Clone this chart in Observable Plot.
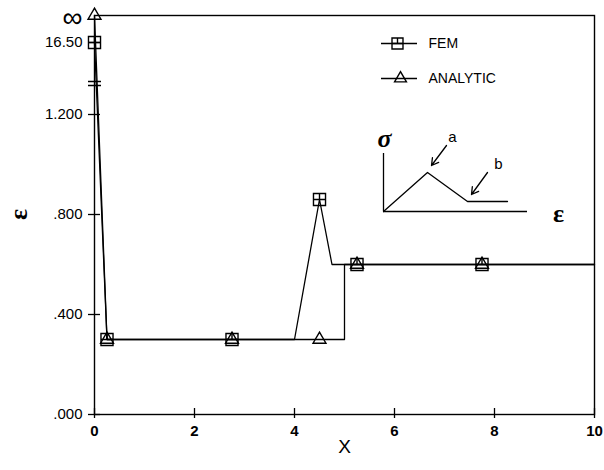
<!DOCTYPE html>
<html><head><meta charset="utf-8">
<script src="https://cdn.jsdelivr.net/npm/d3@7"></script>
<script src="https://cdn.jsdelivr.net/npm/@observablehq/plot@0.6"></script>
<style>body{margin:0;background:#fff}#chart{width:604px;height:470px}</style>
</head><body><div id="chart"></div>
<script>
// ---- data ----
const xTicks = [0, 2, 4, 6, 8, 10];
const yTickValues = [0, 0.4, 0.8, 1.2, 16.5, Infinity];
const yTickLabels = [".000", ".400", ".800", "1.200", "16.50", "\u221E"];
const femLineX = [0, 0.25, 2.75, 4.0, 4.5, 4.75, 5.25, 7.75, 10];
const femLineY = [16.5, 0.3, 0.3, 0.3, 0.86, 0.6, 0.6, 0.6, 0.6];
const femMarkX = [0, 0.25, 2.75, 4.5, 5.25, 7.75];
const femMarkY = [16.5, 0.3, 0.3, 0.86, 0.6, 0.6];
const anaLineX = [0, 0.25, 2.75, 4.5, 5.0, 5.0, 5.25, 7.75, 10];
const anaLineY = [Infinity, 0.3, 0.3, 0.3, 0.3, 0.6, 0.6, 0.6, 0.6];
const anaMarkX = [0, 0.25, 2.75, 4.5, 5.25, 7.75];
const anaMarkY = [Infinity, 0.3, 0.3, 0.3, 0.6, 0.6];
const seriesNames = ["FEM", "ANALYTIC"];
// inset schematic (stress-strain sketch), in plot coordinates
const insetCurveX = [5.78, 6.66, 7.46, 8.26];
const insetCurveY = [0.812, 0.968, 0.852, 0.852];

// broken y axis: values above the break are drawn at fixed positions
const BREAK16 = 1.488, BREAKINF = 1.596;
const disp = v => v === Infinity ? BREAKINF : (v >= 16.5 ? BREAK16 : v);

const zip = (xs, ys) => xs.map((x, i) => ({x, y: disp(ys[i])}));
const fem = zip(femLineX, femLineY), femM = zip(femMarkX, femMarkY);
const ana = zip(anaLineX, anaLineY), anaM = zip(anaMarkX, anaMarkY);
const yT = yTickValues.map((v, i) => ({y: disp(v), label: yTickLabels[i], inf: v === Infinity}));

const boxSym = {draw(ctx, size) {
  const h = Math.sqrt(size) / 2;
  ctx.moveTo(-h, -h); ctx.lineTo(h, -h); ctx.lineTo(h, h); ctx.lineTo(-h, h); ctx.closePath();
  ctx.moveTo(-h, 0); ctx.lineTo(h, 0);
  ctx.moveTo(0, -h); ctx.lineTo(0, 0);
}};
const font = "Liberation Sans, Arial, sans-serif";
const sw = 1.3;

const chart = Plot.plot({
  width: 604, height: 470,
  marginLeft: 94, marginRight: 10, marginTop: 15, marginBottom: 56,
  style: {fontFamily: font, background: "#fff", color: "#000"},
  x: {domain: [0, 10], axis: null},
  y: {domain: [0, BREAKINF], axis: null},
  marks: [
    Plot.frame({stroke: "#000", strokeWidth: 1.4}),
    // x ticks (crossing the axis)
    Plot.ruleX(xTicks, {x: d => d, y1: -0.016, y2: 0.024, stroke: "#000", strokeWidth: 1.3, clip: false}),
    Plot.text(xTicks, {x: d => d, y: 0, dy: 17, text: d => String(d), fontSize: 15, fontWeight: "bold", fill: "#000"}),
    Plot.text(["X"], {x: 5, y: 0, dy: 32, text: d => d, fontSize: 19, fill: "#000"}),
    // y ticks
    Plot.ruleY(yT.filter(d => !d.inf), {y: "y", x1: -0.12, x2: 0.12, stroke: "#000", strokeWidth: 1.3, clip: false}),
    Plot.text(yT.filter(d => !d.inf), {x: 0, y: "y", dx: -12, text: "label", textAnchor: "end", fontSize: 15, fill: "#000"}),
    Plot.text(yT.filter(d => d.inf), {x: 0, y: "y", dx: -12, dy: 3, text: "label", textAnchor: "end", fontSize: 28, fill: "#000"}),
    // axis break marks
    Plot.ruleY([1.316, 1.332], {y: d => d, x1: -0.12, x2: 0.14, stroke: "#000", strokeWidth: 1.5, clip: false}),
    Plot.text(["\u03B5"], {x: 0, y: 0.8, dx: -76, text: d => d, rotate: -90, fontSize: 26, fontWeight: "bold", fontFamily: "Liberation Serif, serif", fill: "#000"}),
    // series lines
    Plot.line(fem, {x: "x", y: "y", stroke: "#000", strokeWidth: sw}),
    Plot.line(ana, {x: "x", y: "y", stroke: "#000", strokeWidth: sw}),
    Plot.dot(femM, {x: "x", y: "y", symbol: boxSym, r: 6.8, stroke: "#000", fill: "none", strokeWidth: 1.4}),
    Plot.dot(anaM, {x: "x", y: "y", symbol: "triangle", r: 4.8, stroke: "#000", fill: "none", strokeWidth: 1.4}),
    // legend
    Plot.ruleY([1.484], {y: d => d, x1: 5.74, x2: 6.46, stroke: "#000", strokeWidth: sw}),
    Plot.dot([{x: 6.06, y: 1.484}], {x: "x", y: "y", symbol: boxSym, r: 6.2, stroke: "#000", fill: "none", strokeWidth: 1.4}),
    Plot.ruleY([1.344], {y: d => d, x1: 5.74, x2: 6.46, stroke: "#000", strokeWidth: sw}),
    Plot.dot([{x: 6.12, y: 1.344}], {x: "x", y: "y", symbol: "triangle", r: 4.4, stroke: "#000", fill: "none", strokeWidth: 1.4}),
    Plot.text([{x: 6.68, y: 1.484, t: seriesNames[0]}, {x: 6.68, y: 1.344, t: seriesNames[1]}], {x: "x", y: "y", text: "t", textAnchor: "start", fontSize: 14, fill: "#000"}),
    // inset sketch
    Plot.ruleX([5.78], {x: d => d, y1: 0.812, y2: 1.044, stroke: "#000", strokeWidth: 1.3}),
    Plot.ruleY([0.812], {y: d => d, x1: 5.78, x2: 8.66, stroke: "#000", strokeWidth: 1.3}),
    Plot.line(insetCurveX.map((x, i) => ({x, y: insetCurveY[i]})), {x: "x", y: "y", stroke: "#000", strokeWidth: 1.3}),
    Plot.arrow([{x1: 7.04, y1: 1.076, x2: 6.74, y2: 0.996}, {x1: 7.86, y1: 0.968, x2: 7.54, y2: 0.88}], {x1: "x1", y1: "y1", x2: "x2", y2: "y2", stroke: "#000", strokeWidth: 1.3, headLength: 9}),
    Plot.text([{x: 5.8, y: 1.104, t: "\u03C3"}], {x: "x", y: "y", text: "t", fontSize: 26, fontWeight: "bold", fontStyle: "italic", fontFamily: "Liberation Serif, serif", fill: "#000"}),
    Plot.text([{x: 7.16, y: 1.11, t: "a"}, {x: 8.08, y: 1.0, t: "b"}], {x: "x", y: "y", text: "t", fontSize: 15, fill: "#000"}),
    Plot.text([{x: 9.28, y: 0.804, t: "\u03B5"}], {x: "x", y: "y", text: "t", fontSize: 26, fontWeight: "bold", fontFamily: "Liberation Serif, serif", fill: "#000"})
  ]
});
document.getElementById("chart").appendChild(chart);
</script></body></html>
